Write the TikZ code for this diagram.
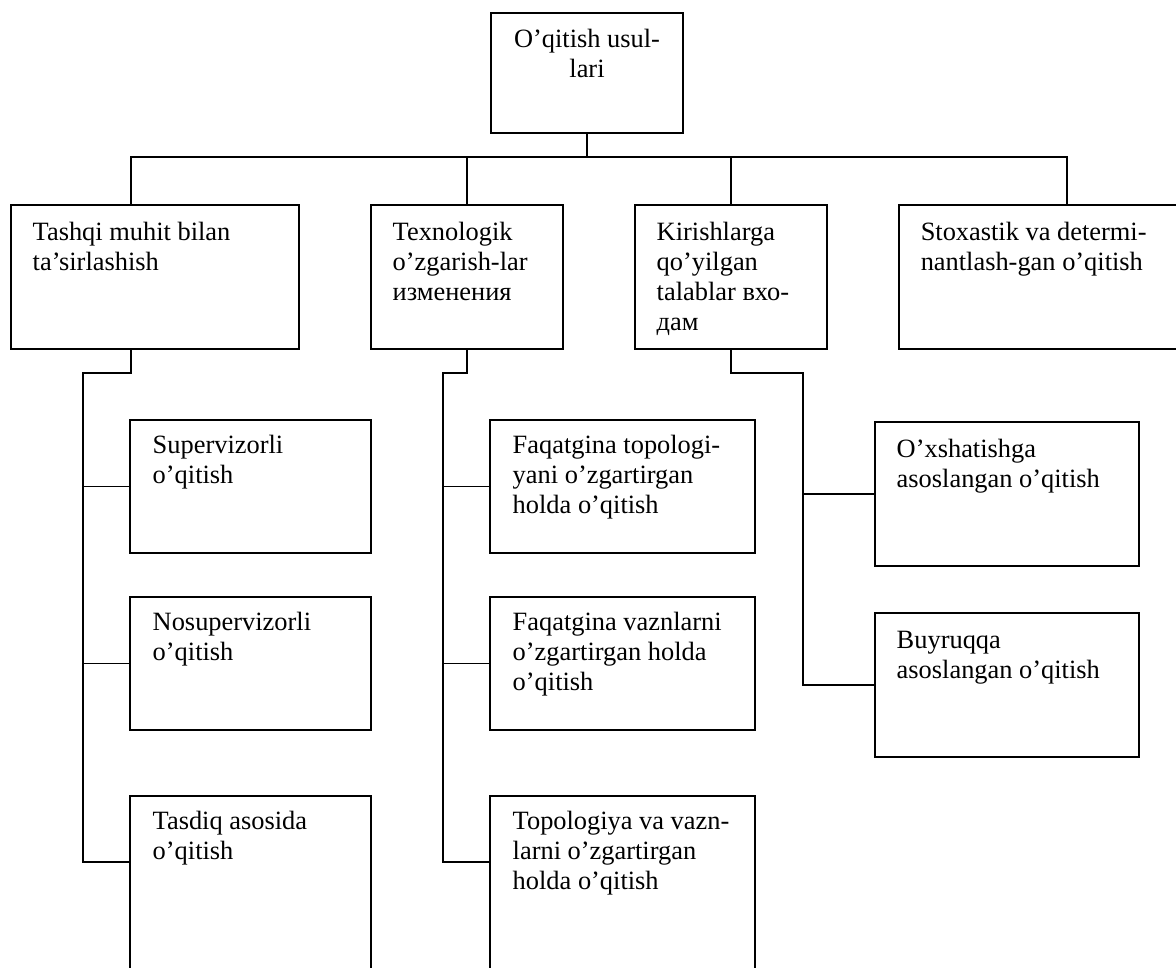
\documentclass[tikz,border=0pt]{standalone}
\usepackage{fontspec}
\setmainfont{Liberation Serif}
\usetikzlibrary{calc}
\begin{document}
\begin{tikzpicture}[x=0.75pt,y=-0.75pt, line width=1.1pt,
  box/.style={draw, rectangle, anchor=north west, inner sep=0pt, outer sep=0pt},
  txt/.style={anchor=north west, inner sep=0pt, align=left, font=\fontsize{19.8}{22.5}\selectfont}]
\useasboundingbox (0,0) rectangle (1176,967);
\clip (0,0) rectangle (1176,967);

% top
\node[box, minimum width=144pt, minimum height=90pt] (top) at (491,13) {};
\node[txt, anchor=north, align=center] (toptxt) at (587,26) {\strut O’qitish usul-\\lari};

% level 1
\node[box, minimum width=216pt, minimum height=108pt] (a) at (11,205) {};
\node[txt] (atxt) at (32,219) {\strut Tashqi muhit bilan\\ta’sirlashish};
\node[box, minimum width=144pt, minimum height=108pt] (b) at (371,205) {};
\node[txt] (btxt) at (392,219) {\strut Texnologik\\o’zgarish-lar\\изменения};
\node[box, minimum width=144pt, minimum height=108pt] (c) at (635,205) {};
\node[txt] (ctxt) at (656,219) {\strut Kirishlarga\\qo’yilgan\\talablar вхо-\\дам};
\node[box, minimum width=252pt, minimum height=108pt] (d) at (899,205) {};
\node[txt] (dtxt) at (920,219) {\strut Stoxastik va determi-\\nantlash-gan o’qitish};

% children A
\node[box, minimum width=180.75pt, minimum height=99.75pt] (a1) at (130,420) {};
\node[txt] (a1txt) at (152,432) {\strut Supervizorli\\o’qitish};
\node[box, minimum width=180.75pt, minimum height=99.75pt] (a2) at (130,597) {};
\node[txt] (a2txt) at (152,609) {\strut Nosupervizorli\\o’qitish};
\node[box, minimum width=180.75pt, minimum height=150pt] (a3) at (130,796) {};
\node[txt] (a3txt) at (152,808) {\strut Tasdiq asosida\\o’qitish};

% children B
\node[box, minimum width=198.75pt, minimum height=99.75pt] (b1) at (490,420) {};
\node[txt] (b1txt) at (512,432) {\strut Faqatgina topologi-\\yani o’zgartirgan\\holda o’qitish};
\node[box, minimum width=198.75pt, minimum height=99.75pt] (b2) at (490,597) {};
\node[txt] (b2txt) at (512,609) {\strut Faqatgina vaznlarni\\o’zgartirgan holda\\o’qitish};
\node[box, minimum width=198.75pt, minimum height=150pt] (b3) at (490,796) {};
\node[txt] (b3txt) at (512,808) {\strut Topologiya va vazn-\\larni o’zgartirgan\\holda o’qitish};

% children C
\node[box, minimum width=198pt, minimum height=108pt] (c1) at (875,422) {};
\node[txt] (c1txt) at (896,436) {\strut O’xshatishga\\asoslangan o’qitish};
\node[box, minimum width=198pt, minimum height=108pt] (c2) at (875,613) {};
\node[txt] (c2txt) at (896,627) {\strut Buyruqqa\\asoslangan o’qitish};

% connectors top
\coordinate (j0) at (587,157);
\draw (top.south) -- (j0);
\draw ($(a.north west)+(120,0)$) |- (j0);
\draw (b.north) |- (j0);
\draw (c.north) |- (j0);
\draw (d.north) |- (j0);

% trunk A
\coordinate (ta) at (83,373);
\coordinate (a3in) at ($(a3.north west)+(0,66)$);
\draw ($(a.south west)+(120,0)$) |- (ta) |- (a3in);
\draw (a1.west) -- (a1.west -| ta);
\draw (a2.west) -- (a2.west -| ta);

% trunk B
\coordinate (tb) at (443,373);
\coordinate (b3in) at ($(b3.north west)+(0,66)$);
\draw (b.south) |- (tb) |- (b3in);
\draw (b1.west) -- (b1.west -| tb);
\draw (b2.west) -- (b2.west -| tb);

% trunk C
\coordinate (tc) at (803,373);
\draw (c.south) |- (tc) |- (c2.west);
\draw (c1.west) -- (c1.west -| tc);
\end{tikzpicture}
\end{document}
